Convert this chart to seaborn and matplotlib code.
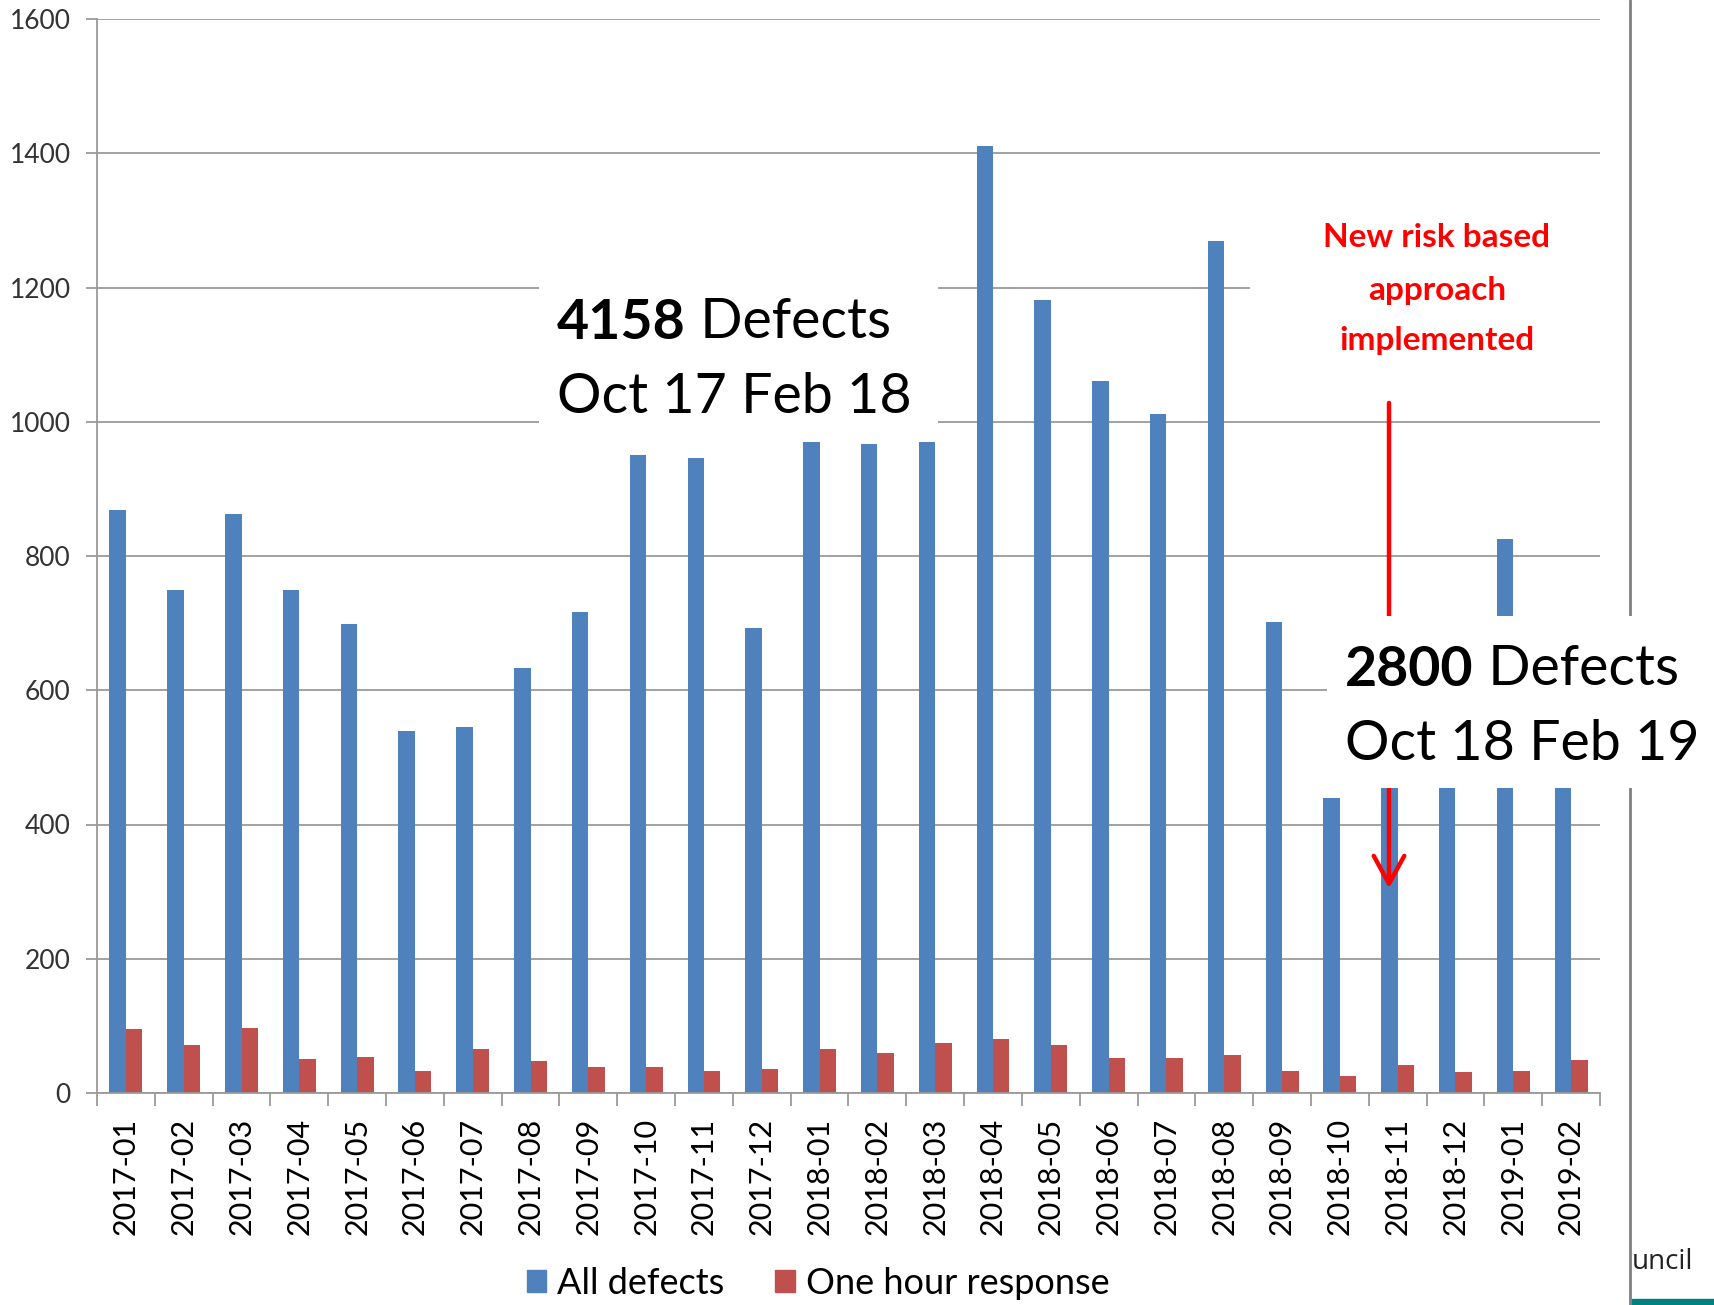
import numpy as np
import pandas as pd
import seaborn as sns
import matplotlib.pyplot as plt
from matplotlib.patches import Rectangle
from matplotlib.lines import Line2D

MONTHS = ["2017-01", "2017-02", "2017-03", "2017-04", "2017-05", "2017-06",
          "2017-07", "2017-08", "2017-09", "2017-10", "2017-11", "2017-12",
          "2018-01", "2018-02", "2018-03", "2018-04", "2018-05", "2018-06",
          "2018-07", "2018-08", "2018-09", "2018-10", "2018-11", "2018-12",
          "2019-01", "2019-02"]
ALL_DEFECTS = [868, 750, 863, 749, 698, 540, 545, 633, 716, 951, 946, 693, 970,
               967, 970, 1411, 1181, 1060, 1011, 1269, 701, 439, 540, 480, 826, 515]
ONE_HOUR = [95, 72, 97, 51, 53, 33, 66, 47, 39, 39, 33, 36, 65,
            60, 75, 80, 72, 52, 52, 57, 33, 26, 42, 31, 33, 49]
SERIES = ["All defects", "One hour response"]
COLOURS = ["#4F81BD", "#C0504D"]
GRID = "#9a9a9a"

W, H = 1715, 1305


def fx(px):
    return px / W


def fy(px):
    return 1 - px / H


df = pd.DataFrame({
    "month": MONTHS * 2,
    "count": ALL_DEFECTS + ONE_HOUR,
    "series": [SERIES[0]] * len(MONTHS) + [SERIES[1]] * len(MONTHS),
})

sns.set_theme(style="white")
plt.rcParams["font.family"] = ["Lato", "DejaVu Sans"]
plt.rcParams["text.color"] = "black"

fig = plt.figure(figsize=(W / 100, H / 100), dpi=100)
ax = fig.add_axes([fx(97), fy(1093), fx(1600) - fx(97), fy(19) - fy(1093)])

sns.barplot(data=df, x="month", y="count", hue="series", palette=COLOURS,
            width=0.57, saturation=1, linewidth=0, legend=False, ax=ax)

ax.set_xlim(-0.5, len(MONTHS) - 0.5)
ax.set_ylim(0, 1600)
ax.set_yticks(range(0, 1601, 200))
ax.set_xlabel("")
ax.set_ylabel("")
ax.yaxis.grid(True, color=GRID, lw=1.3)
ax.set_axisbelow(True)
for s in ["top", "right"]:
    ax.spines[s].set_visible(False)
for s in ["left", "bottom"]:
    ax.spines[s].set_color(GRID)
    ax.spines[s].set_linewidth(1.3)

ax.tick_params(axis="y", direction="out", length=8, width=1.3, color=GRID,
               pad=11, labelsize=19, labelcolor="#333333", left=True)
ax.set_xticks(np.arange(-0.5, len(MONTHS), 1), minor=True)
ax.tick_params(axis="x", which="major", length=0, pad=18, labelsize=22,
               labelrotation=90, labelcolor="black")
ax.tick_params(axis="x", which="minor", length=9, width=1.3, color=GRID,
               direction="out", bottom=True)

# red arrow (partly hidden by the text box)
ax.annotate("", xy=(21.85, 305), xytext=(21.85, 1028),
            arrowprops=dict(arrowstyle="->, head_length=1.0, head_width=0.55",
                            mutation_scale=20, color="red", lw=3.2,
                            shrinkA=0, shrinkB=0))

# slide furniture
fig.add_artist(Line2D([fx(1630)] * 2, [0, 1], transform=fig.transFigure,
                      color="#808080", lw=2, zorder=1))
fig.add_artist(Rectangle((fx(1632), 0), fx(1715) - fx(1632), 6 / H,
                         transform=fig.transFigure, color="#00807f", zorder=1))
fig.text(fx(1632), fy(1269), "uncil", fontsize=20, family="Open Sans",
         color="#222222", va="baseline")

# white boxes
for x0, y0, x1, y1 in [(539, 268, 938, 437), (1327, 616, 1715, 788),
                       (1250, 195, 1625, 395)]:
    fig.add_artist(Rectangle((fx(x0), fy(y1)), fx(x1) - fx(x0), fy(y0) - fy(y1),
                             transform=fig.transFigure, facecolor="white",
                             edgecolor="none", zorder=3))


def callout(x, y1, y2, number, period):
    t = fig.text(fx(x), fy(y1), number, fontsize=40, fontweight="bold",
                 color="black", va="baseline", zorder=4)
    fig.add_artist(plt.Annotation(" Defects", xy=(1, 0), xycoords=t,
                                  va="bottom", ha="left", fontsize=40,
                                  color="black", zorder=4))
    fig.text(fx(x), fy(y2), period, fontsize=40, color="black",
             va="baseline", zorder=4)


callout(557, 339, 413, "4158", "Oct 17 Feb 18")
callout(1345, 686, 760, "2800", "Oct 18 Feb 19")

for line, base in zip(["New risk based", "approach", "implemented"], [247, 300, 350]):
    fig.text(fx(1437), fy(base), line, fontsize=24, fontweight="bold",
             color="red", ha="center", va="baseline", zorder=4)

handles = [Rectangle((0, 0), 1, 1, color=c) for c in COLOURS]
fig.legend(handles, SERIES, loc="center", bbox_to_anchor=(fx(818), fy(1283)),
           ncol=2, frameon=False, fontsize=26, handlelength=0.55,
           handleheight=0.55, handletextpad=0.3, columnspacing=1.4,
           labelcolor="black")

fig.savefig("out.png", dpi=100)
